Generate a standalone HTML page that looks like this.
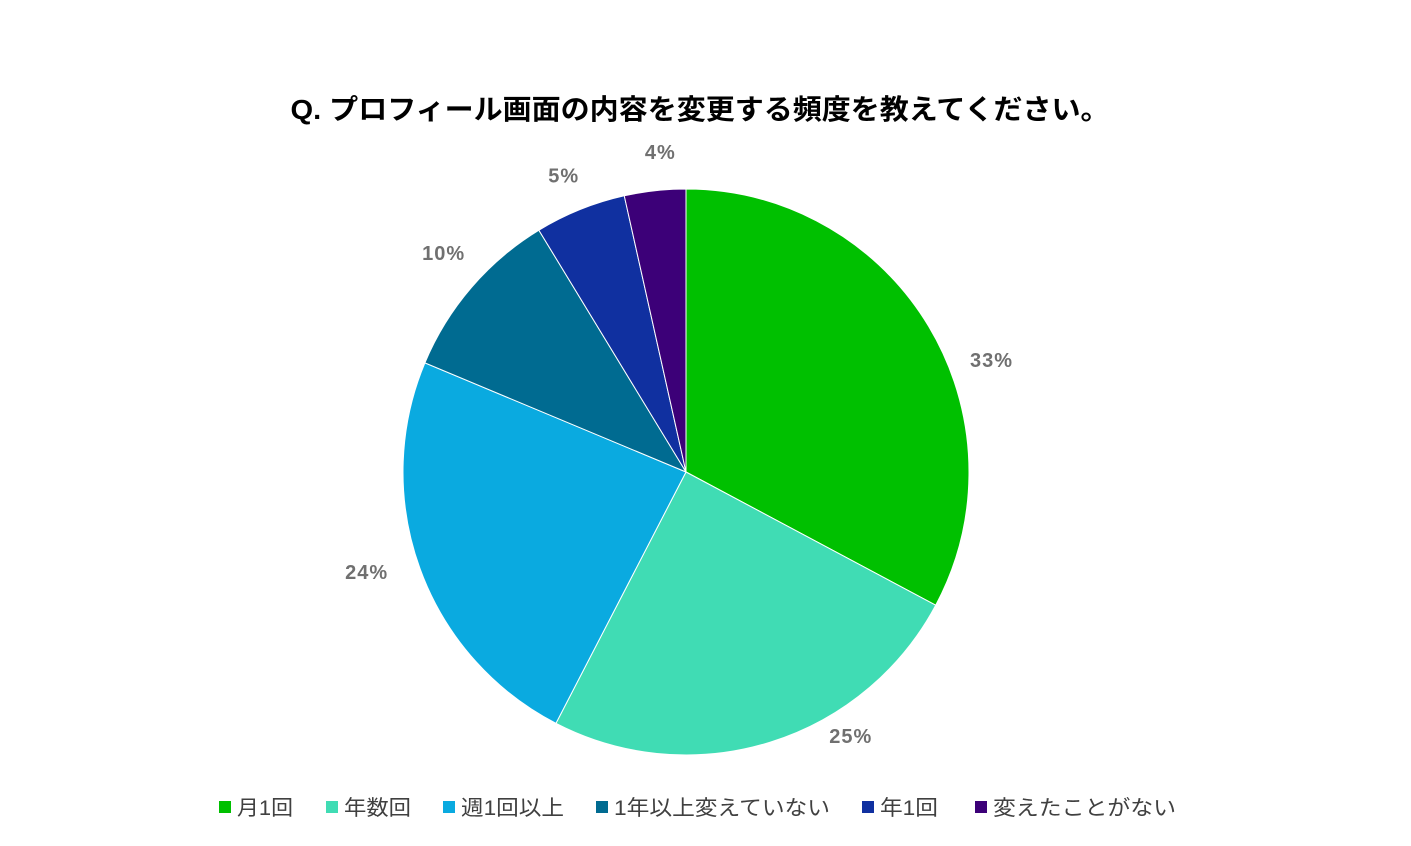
<!DOCTYPE html>
<html><head><meta charset="utf-8"><style>
body{margin:0;width:1411px;height:841px;background:#fff;overflow:hidden;font-family:"Liberation Sans","Noto Sans CJK JP",sans-serif}
</style></head><body>
<svg width="1411" height="841">
<text x="700" y="119" text-anchor="middle" font-size="28" font-weight="bold" fill="#000" textLength="819" lengthAdjust="spacingAndGlyphs">Q. プロフィール画面の内容を変更する頻度を教えてください。</text>
<g id="slices"></g><g id="labels"></g><g id="legend"></g>
</svg>
<script>
const categories=["月1回","年数回","週1回以上","1年以上変えていない","年1回","変えたことがない"];
const values=[32.8,24.8,23.7,10.0,5.2,3.5];
const printed=["33%","25%","24%","10%","5%","4%"];
const colors=["#00c000","#40dcb4","#0aaae0","#006b91","#1030a0","#3c0078"];
const cx=686,cy=472,r=283;
// label placement tweaks (layout only): angular shift in degrees and radius
const labelShift=[11,-14.6,2.4,1.3,-0.5,1.7];
const labelRad=[325,312,335,326,320,320];
const ns="http://www.w3.org/2000/svg";
const total=values.reduce((a,b)=>a+b,0);
let acc=0;
const pt=(a,rad)=>[cx+rad*Math.sin(a),cy-rad*Math.cos(a)];
values.forEach((v,i)=>{
 const a0=acc/total*2*Math.PI;acc+=v;const a1=acc/total*2*Math.PI;
 const p0=pt(a0,r),p1=pt(a1,r);
 const path=document.createElementNS(ns,"path");
 path.setAttribute("d",`M${cx},${cy}L${p0[0]},${p0[1]}A${r},${r} 0 ${a1-a0>Math.PI?1:0} 1 ${p1[0]},${p1[1]}Z`);
 path.setAttribute("fill",colors[i]);path.setAttribute("stroke","#fff");path.setAttribute("stroke-width","1");
 
 
 document.getElementById("slices").appendChild(path);
 const am=(a0+a1)/2+labelShift[i]*Math.PI/180,lp=pt(am,labelRad[i]);
 const t=document.createElementNS(ns,"text");
 t.setAttribute("x",lp[0]);t.setAttribute("y",lp[1]+6);t.setAttribute("text-anchor","middle");
 t.setAttribute("font-size","20");t.setAttribute("font-weight","bold");t.setAttribute("fill","#707070");
 t.setAttribute("letter-spacing","1");
 t.textContent=printed[i];
 
 
 document.getElementById("labels").appendChild(t);
});
const lx=[219,326,443,596,862,975];
const lw=[56,67,103,216,58,183];
categories.forEach((c,i)=>{
 const g=document.createElementNS(ns,"g");
 
 
 const rc=document.createElementNS(ns,"rect");
 rc.setAttribute("x",lx[i]);rc.setAttribute("y",801);rc.setAttribute("width",12);rc.setAttribute("height",12);rc.setAttribute("fill",colors[i]);
 const t=document.createElementNS(ns,"text");
 t.setAttribute("x",lx[i]+18);t.setAttribute("y",815);t.setAttribute("font-size","21");t.setAttribute("fill","#404040");
 t.setAttribute("textLength",lw[i]);t.setAttribute("lengthAdjust","spacingAndGlyphs");
 t.textContent=c;
 g.appendChild(rc);g.appendChild(t);
 document.getElementById("legend").appendChild(g);
});
</script>
</body></html>
